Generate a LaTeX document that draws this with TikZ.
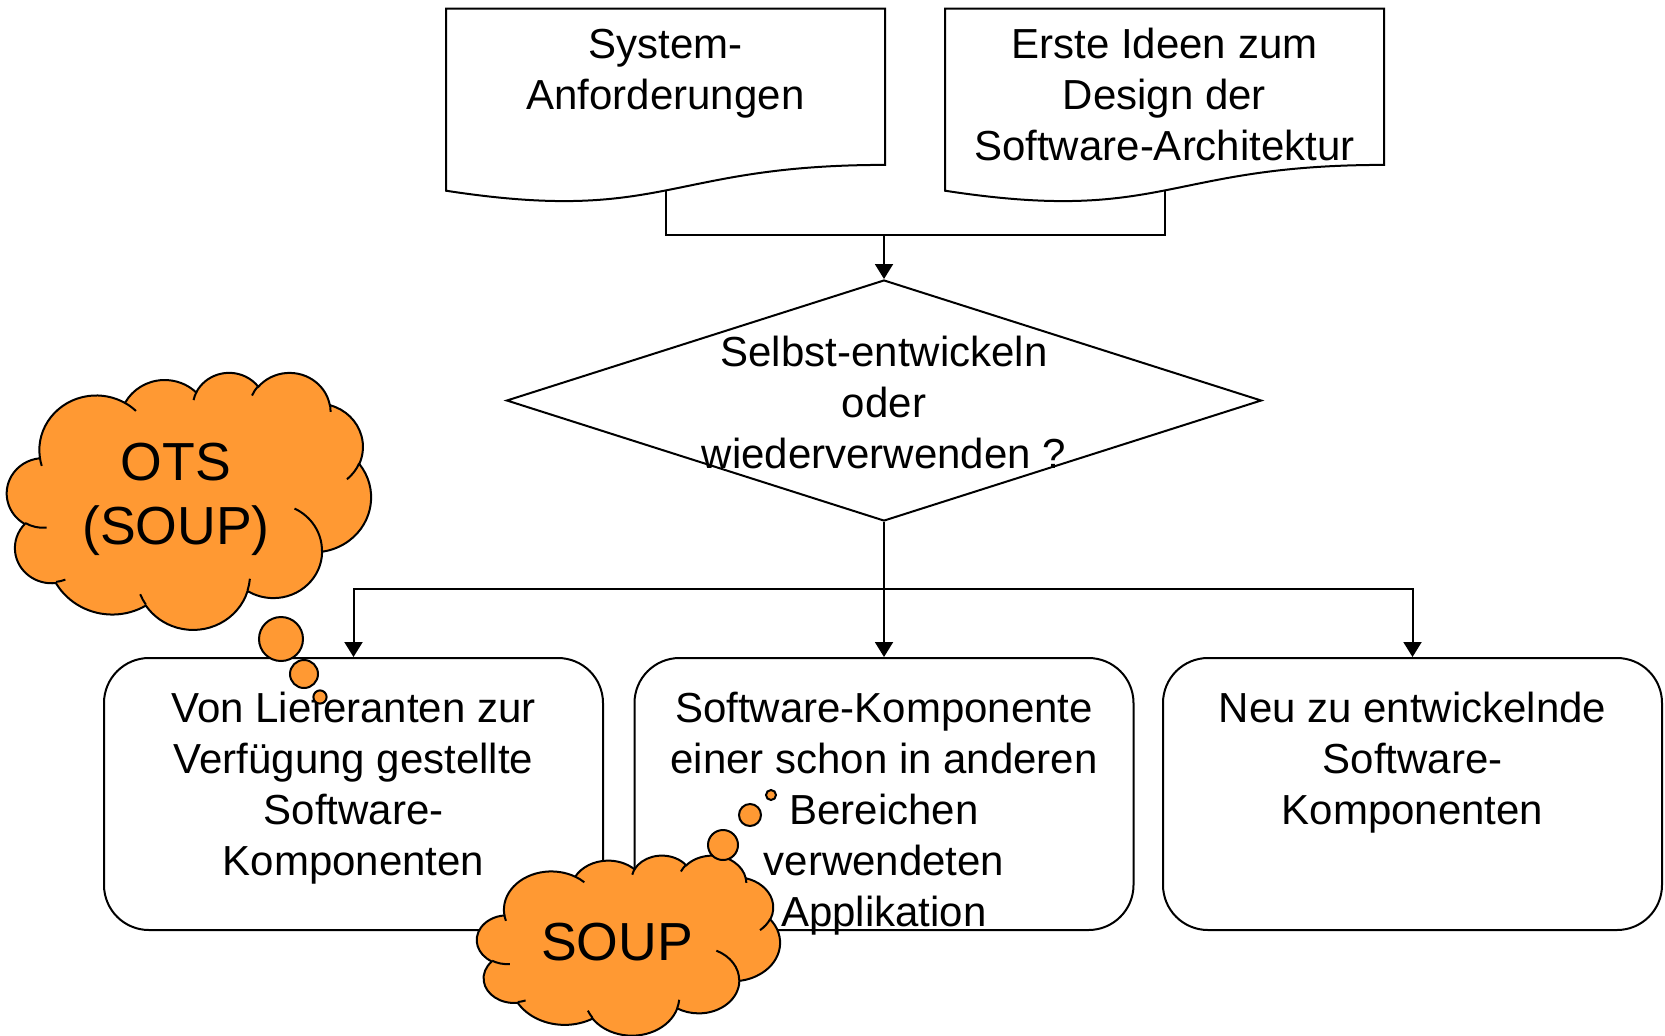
\documentclass[tikz,border=0pt]{standalone}
\usepackage{fontspec}
\setmainfont{Liberation Sans}
\usepackage{tikz}
\usetikzlibrary{shapes.geometric, arrows.meta, positioning}
\definecolor{soup}{RGB}{255,153,51}
\newcommand{\docbody}[1]{\parbox[c][97.5pt][t]{219.5pt}{\centering\rule{0pt}{25pt}#1}}
\newcommand{\compbody}[1]{\parbox[c][136pt][t]{249.5pt}{\centering\rule{0pt}{32pt}#1}}
\newcommand{\docoutline}[1]{%
  \draw (#1.north west) -- (#1.north east) -- ([yshift=19.3pt]#1.south east)
    .. controls ([yshift=19.3pt]#1.south) and ([yshift=-10.5pt]#1.south) .. ([yshift=6.4pt]#1.south west) -- cycle;}
% one puff of a cloud: x radius, y radius (in 1/432 of the cloud), start angle, sweep
\tikzset{puff/.style n args={4}{insert path={arc[start angle={-atan2(#1*sin(#3),#2*cos(#3))},
  delta angle={-mod(atan2(#1*sin(#3+#4),#2*cos(#3+#4))-atan2(#1*sin(#3),#2*cos(#3))+720,360)},
  x radius={#1/432*\cloudw*0.5pt}, y radius={#2/432*\cloudh*0.5pt}]}}}
\newcommand{\thoughtcloud}[4]{% left, top, width, height
  \begin{scope}[shift={(#1,#2)}]
  \def\cloudw{#3}\def\cloudh{#4}
  \filldraw [fill=soup] ({39.00/432*#3},{143.70/432*#4})
    [puff={67.53}{91.90}{-190.4875}{123.7805}]
    [puff={53.33}{72.67}{-144.1024}{89.9452}]
    [puff={43.65}{59.45}{-145.8079}{99.7230}]
    [puff={48.57}{65.95}{-130.9861}{117.2417}]
    [puff={53.33}{72.73}{-78.7089}{109.0269}]
    [puff={67.75}{92.20}{-46.2673}{130.2690}]
    [puff={57.85}{78.67}{0.6250}{114.0333}]
    [puff={67.52}{92.15}{22.4516}{115.1726}]
    [puff={77.20}{105.43}{66.2426}{75.7110}]
    [puff={43.60}{59.18}{-274.9421}{146.7356}]
    [puff={43.45}{59.45}{-246.8285}{152.5189}] -- cycle;
  \draw ({46.93/432*#3},{261.77/432*#4}) [puff={43.45}{59.45}{86.7420}{26.4295}]
    ({69.28/432*#3},{348.99/432*#4}) [puff={43.60}{59.18}{73.6105}{11.4475}]
    ({164.78/432*#3},{390.90/432*#4}) [puff={67.52}{92.15}{137.6242}{14.0811}]
    ({288.27/432*#3},{347.51/432*#4}) [puff={67.52}{92.15}{6.4533}{15.9984}]
    ({341.29/432*#3},{229.54/432*#4}) [puff={57.85}{78.67}{-70.2924}{70.9174}]
    ({417.98/432*#3},{153.54/432*#4}) [puff={53.33}{72.73}{30.3180}{27.7515}]
    ({383.24/432*#3},{54.26/432*#4}) [puff={48.57}{65.95}{-13.7443}{14.8589}]
    ({290.78/432*#3},{39.52/432*#4}) [puff={48.57}{65.95}{-149.1815}{18.1954}]
    ({221.41/432*#3},{47.20/432*#4}) [puff={43.65}{59.45}{-163.4943}{17.6864}]
    ({140.00/432*#3},{51.92/432*#4}) [puff={67.53}{91.90}{-66.7070}{12.3194}]
    ({41.27/432*#3},{157.89/432*#4}) [puff={67.53}{91.90}{157.6544}{11.8582}];
  \end{scope}}

\begin{document}
\begin{tikzpicture}[x=0.5pt, y=-0.5pt, line width=1pt, font=\fontsize{21}{25.5}\selectfont]
\tikzstyle{doc} = [inner sep=0pt, outer sep=0pt]
\tikzstyle{component} = [rectangle, rounded corners=22.5pt, draw, inner sep=0pt]
\tikzstyle{decision} = [diamond, draw, minimum width=377.5pt, minimum height=120.5pt, inner sep=0pt]
\tikzstyle{cloudtext} = [align=center, inner sep=0pt, font=\fontsize{26.8}{32}\selectfont]
\tikzstyle{bubble} = [draw, fill=soup]
\tikzstyle{arrow} = [->, >={Triangle[length=7.5pt,width=9pt]}]

\useasboundingbox (0,0) rectangle (1665,1035);

% input documents
\node (sysreq) [doc] at (665.5,106) {\docbody{System-\\Anforderungen}};
\node (ideas) [doc] at (1164.5,106) {\docbody{Erste Ideen zum\\Design der\\Software-Architektur}};
\docoutline{sysreq}
\docoutline{ideas}
\coordinate (sysreq-out) at ([yshift=6.5pt]sysreq.south);
\coordinate (ideas-out) at ([yshift=6.5pt]ideas.south);
\coordinate (join) at (884,235);

% decision
\node (decide) [decision] at (884,400.5) {};
\node (decidetxt) [align=center] at (884,402.5) {Selbst-entwickeln\\oder\\wiederverwenden ?};
\coordinate (split) at (884,589);

% components
\node (vendor) [component] at (353.5,794) {\compbody{Von Lieferanten zur\\Verfügung gestellte\\Software-\\Komponenten}};
\node (reuse) [component] at (884,794) {\compbody{Software-Komponente\\einer schon in anderen\\Bereichen\\verwendeten\\Applikation}};
\node (newdev) [component] at (1412.5,794) {\compbody{Neu zu entwickelnde\\Software-\\Komponenten}};

\draw (sysreq-out) |- (join) -| (ideas-out);
\draw [arrow] (join) -- (decide.north);
\draw (decide.south) -- (split);
\draw [arrow] (split) -| (vendor.north);
\draw [arrow] (split) -- (reuse.north);
\draw [arrow] (split) -| (newdev.north);

% thought clouds
\thoughtcloud{7}{372}{364}{257}
\node (ots) [cloudtext] at (176,499) {OTS\\(SOUP)};
\draw [bubble] (281,639) circle (11pt);
\draw [bubble] (304,674) circle (7pt);
\draw [bubble] (320,697) circle (3.3pt);
\thoughtcloud{477}{855}{303}{180}
\node (soup) [cloudtext] at (617,942) {SOUP};
\draw [bubble] (723,845) circle (7.5pt);
\draw [bubble] (750,815) circle (5.5pt);
\draw [bubble] (771,795) circle (2.5pt);

\end{tikzpicture}
\end{document}
